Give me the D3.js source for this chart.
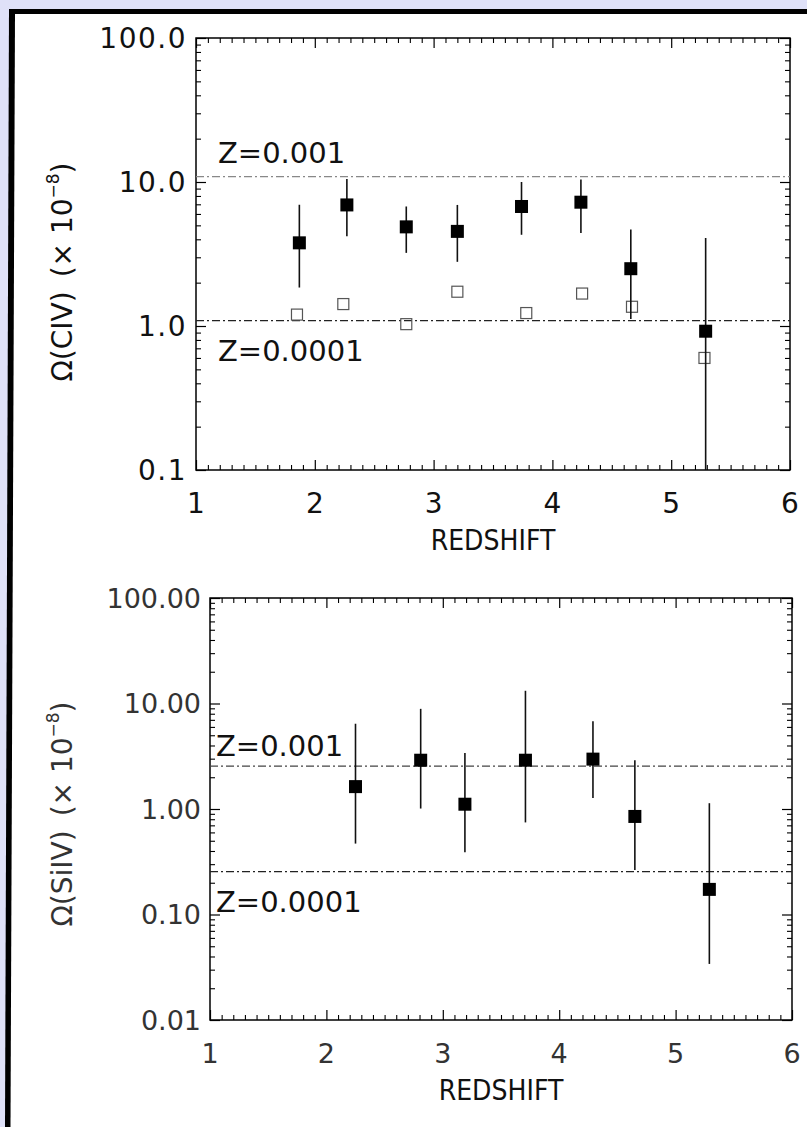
<!DOCTYPE html>
<html>
<head>
<meta charset="utf-8">
<script src="https://cdn.jsdelivr.net/npm/d3@7"></script>
<style>
  html, body { margin: 0; padding: 0; background: #dfe1f8; }
  svg { display: block; }
</style>
</head>
<body>
<svg id="fig" width="807" height="1127"></svg>
<script>
// ---- Data -------------------------------------------------------------
const redshiftTicks = [1, 2, 3, 4, 5, 6];

// C IV panel
const civTickValues = [0.1, 1, 10, 100];
const civTickLabels = ["0.1", "1.0", "10.0", "100.0"];
const civZ    = [1.87, 2.27, 2.77, 3.20, 3.74, 4.24, 4.66, 5.29];
const civOmega = [3.78, 6.93, 4.88, 4.54, 6.76, 7.24, 2.50, 0.92];
const civHigh = [6.95, 10.5, 6.76, 6.93, 10.0, 10.4, 4.67, 4.09];
const civLow  = [1.85, 4.20, 3.22, 2.79, 4.30, 4.43, 1.12, 0.05];
const civAltZ     = [1.85, 2.24, 2.77, 3.20, 3.78, 4.25, 4.67, 5.28];
const civAltOmega = [1.20, 1.42, 1.03, 1.73, 1.23, 1.68, 1.36, 0.60];
const civMetalLines = [10.9, 1.09];
const civMetalLabels = ["Z=0.001", "Z=0.0001"];

// Si IV panel
const siivTickValues = [0.01, 0.1, 1, 10, 100];
const siivTickLabels = ["0.01", "0.10", "1.00", "10.00", "100.00"];
const siivZ     = [2.25, 2.81, 3.19, 3.71, 4.29, 4.65, 5.29];
const siivOmega = [1.63, 2.90, 1.11, 2.90, 2.97, 0.85, 0.173];
const siivHigh  = [6.43, 8.90, 3.40, 13.2, 6.80, 2.90, 1.135];
const siivLow   = [0.47, 1.01, 0.39, 0.746, 1.27, 0.264, 0.034];
const siivMetalLines = [2.55, 0.255];
const siivMetalLabels = ["Z=0.001", "Z=0.0001"];

// ---- Page frame -------------------------------------------------------
const svg = d3.select("#fig");
svg.append("rect").attr("width", 807).attr("height", 1127).attr("fill", "#dfe1f8");
svg.append("path")
  .attr("d", "M9,9 L807,9 L807,1127 L5,1127 Z")
  .attr("fill", "#000");
svg.append("path")
  .attr("d", "M15,14 L807,14 L807,1127 L10.5,1127 Z")
  .attr("fill", "#fff");

const FONT = "DejaVu Sans, Verdana, sans-serif";

function logMinor(lo, hi) {
  const out = [];
  for (let d = lo; d < hi * 0.999; d *= 10)
    for (let k = 2; k <= 9; k++) out.push(+(k * d).toPrecision(3));
  return out;
}

function drawPanel(cfg) {
  const x = d3.scaleLinear().domain([1, 6]).range([cfg.left, cfg.right]);
  const y = d3.scaleLog().domain(cfg.yDomain).range([cfg.bottom, cfg.top]);
  const g = svg.append("g");

  const xMinor = d3.range(11, 60).filter(v => v % 10 !== 0).map(v => v / 10);
  const yMinor = logMinor(cfg.yDomain[0], cfg.yDomain[1]);

  const axes = [
    [d3.axisBottom, `translate(0,${cfg.bottom})`, x, redshiftTicks, xMinor],
    [d3.axisTop, `translate(0,${cfg.top})`, x, redshiftTicks, xMinor],
    [d3.axisLeft, `translate(${cfg.left},0)`, y, cfg.yTicks, yMinor],
    [d3.axisRight, `translate(${cfg.right},0)`, y, cfg.yTicks, yMinor]
  ];
  axes.forEach(([fn, tr, sc, major, minor]) => {
    g.append("g").attr("transform", tr)
      .call(fn(sc).tickValues(minor).tickSize(-5).tickFormat(""))
      .call(a => a.select(".domain").remove())
      .selectAll("line").attr("stroke", "#000").attr("stroke-width", 1.1);
    g.append("g").attr("transform", tr)
      .call(fn(sc).tickValues(major).tickSize(-10).tickFormat(""))
      .call(a => a.select(".domain").remove())
      .selectAll("line").attr("stroke", "#000").attr("stroke-width", 1.2);
  });

  // plot box
  g.append("rect")
    .attr("x", cfg.left).attr("y", cfg.top)
    .attr("width", cfg.right - cfg.left).attr("height", cfg.bottom - cfg.top)
    .attr("fill", "none").attr("stroke", "#000").attr("stroke-width", 1.5);

  // tick labels
  g.append("g").selectAll("text").data(redshiftTicks).join("text")
    .attr("x", d => x(d)).attr("y", cfg.bottom + cfg.xLabelDy)
    .attr("text-anchor", "middle")
    .attr("font-family", FONT).attr("font-size", cfg.fontSize)
    .attr("fill", cfg.textColor)
    .text(d => d);
  g.append("g").selectAll("text").data(cfg.yTicks).join("text")
    .attr("x", cfg.left - cfg.yLabelGap).attr("y", d => y(d))
    .attr("dy", "0.36em")
    .attr("text-anchor", "end")
    .attr("font-family", FONT).attr("font-size", cfg.fontSize)
    .attr("letter-spacing", cfg.letterSpacing)
    .attr("fill", cfg.textColor)
    .text((d, i) => cfg.yTickLabels[i]);

  // axis titles
  g.append("text")
    .attr("x", (cfg.left + cfg.right) / 2).attr("y", cfg.bottom + cfg.xTitleDy)
    .attr("text-anchor", "middle")
    .attr("font-family", FONT).attr("font-size", 28)
    .attr("font-stretch", "condensed")
    .attr("fill", "#111")
    .text("REDSHIFT");

  const yt = g.append("text")
    .attr("transform", `translate(${cfg.yTitleX},${cfg.yTitleY}) rotate(-90)`)
    .attr("text-anchor", "middle")
    .attr("font-family", FONT).attr("font-size", 28)
    .attr("fill", cfg.textColor);
  yt.append("tspan").text(`Ω(${cfg.species})\u2002(× 10`);
  yt.append("tspan").attr("font-size", 17).attr("dy", -13).text("−8");
  yt.append("tspan").attr("dy", 13).text(")");

  // metallicity reference lines
  const clip = "clip-" + cfg.id;
  svg.append("clipPath").attr("id", clip).append("rect")
    .attr("x", cfg.left).attr("y", cfg.top)
    .attr("width", cfg.right - cfg.left).attr("height", cfg.bottom - cfg.top);

  g.append("g").selectAll("line").data(cfg.metal).join("line")
    .attr("x1", cfg.left).attr("x2", cfg.right)
    .attr("y1", d => y(d)).attr("y2", d => y(d))
    .attr("stroke", (d, i) => cfg.metalColors[i])
    .attr("stroke-width", 1.3)
    .attr("stroke-dasharray", "8,3,2,3");
  g.append("g").selectAll("text").data(cfg.metal).join("text")
    .attr("x", cfg.left + cfg.metalLabelDx)
    .attr("y", (d, i) => y(d) + cfg.metalLabelDy[i])
    .attr("font-family", FONT).attr("font-size", 29)
    .attr("fill", "#111")
    .text((d, i) => cfg.metalLabels[i]);

  const pts = g.append("g").attr("clip-path", `url(#${clip})`);

  // open squares (second estimate)
  if (cfg.altZ) {
    const s = 11;
    pts.selectAll("rect.alt").data(cfg.altZ).join("rect")
      .attr("class", "alt")
      .attr("x", d => x(d) - s / 2)
      .attr("y", (d, i) => y(cfg.altOmega[i]) - s / 2)
      .attr("width", s).attr("height", s)
      .attr("fill", "none").attr("stroke", "#555").attr("stroke-width", 1.2);
  }

  // error bars
  pts.selectAll("line.err").data(cfg.z).join("line")
    .attr("class", "err")
    .attr("x1", d => x(d)).attr("x2", d => x(d))
    .attr("y1", (d, i) => y(Math.max(cfg.low[i], cfg.yDomain[0] * 0.5)))
    .attr("y2", (d, i) => y(cfg.high[i]))
    .attr("stroke", "#111").attr("stroke-width", 1.6);

  // filled squares
  const s = 13;
  pts.selectAll("rect.pt").data(cfg.z).join("rect")
    .attr("class", "pt")
    .attr("x", d => x(d) - s / 2)
    .attr("y", (d, i) => y(cfg.omega[i]) - s / 2)
    .attr("width", s).attr("height", s)
    .attr("fill", "#000");
}

drawPanel({
  id: "civ", species: "CIV",
  left: 196, right: 790, top: 38, bottom: 470,
  yDomain: [0.1, 100], yTicks: civTickValues, yTickLabels: civTickLabels,
  z: civZ, omega: civOmega, high: civHigh, low: civLow,
  altZ: civAltZ, altOmega: civAltOmega,
  metal: civMetalLines, metalLabels: civMetalLabels,
  metalColors: ["#888", "#222"], metalLabelDx: 22, metalLabelDy: [-14, 40],
  fontSize: 28, letterSpacing: 1.5, textColor: "#111",
  xLabelDy: 43, xTitleDy: 80, yLabelGap: 9,
  yTitleX: 72, yTitleY: 272
});

drawPanel({
  id: "siiv", species: "SiIV",
  left: 210, right: 792, top: 598, bottom: 1020,
  yDomain: [0.01, 100], yTicks: siivTickValues, yTickLabels: siivTickLabels,
  z: siivZ, omega: siivOmega, high: siivHigh, low: siivLow,
  metal: siivMetalLines, metalLabels: siivMetalLabels,
  metalColors: ["#444", "#222"], metalLabelDx: 6, metalLabelDy: [-10, 40],
  fontSize: 27, letterSpacing: 0, textColor: "#333",
  xLabelDy: 43, xTitleDy: 80, yLabelGap: 9,
  yTitleX: 72, yTitleY: 814
});
</script>
</body>
</html>
